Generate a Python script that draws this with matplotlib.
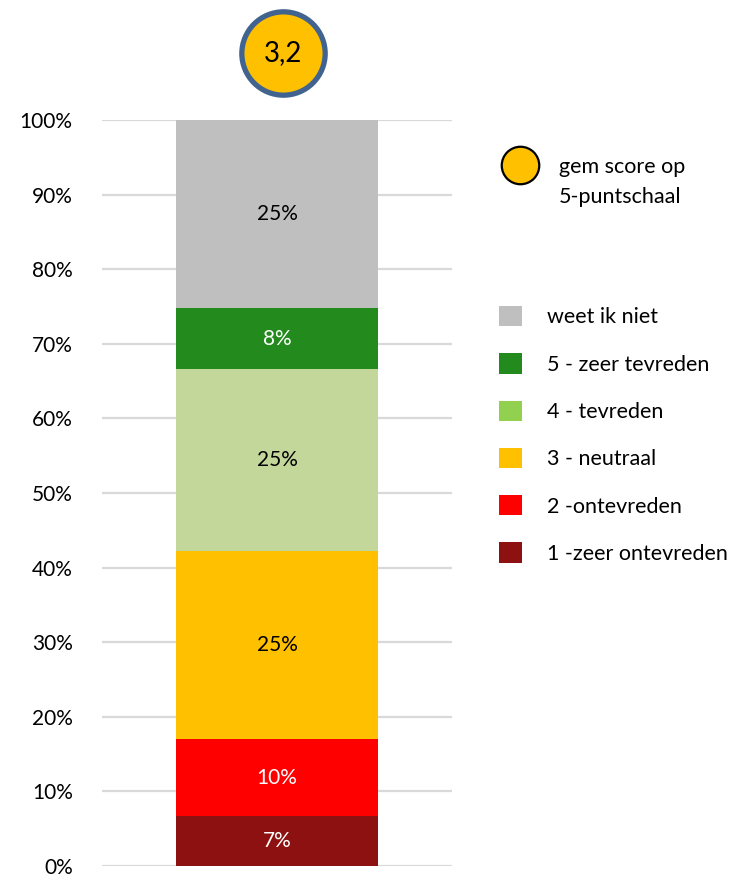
import matplotlib.pyplot as plt
from matplotlib.patches import Patch
from matplotlib.lines import Line2D

plt.rcParams['font.family'] = ['Lato', 'DejaVu Sans']

categories = ['1 -zeer ontevreden', '2 -ontevreden', '3 - neutraal',
              '4 - tevreden', '5 - zeer tevreden', 'weet ik niet']
values = [6.7, 10.3, 25.2, 24.4, 8.2, 25.2]
labels = ['7%', '10%', '25%', '25%', '8%', '25%']
bar_colors = ['#8E1111', '#FF0000', '#FFC000', '#C4D79B', '#238A1E', '#BFBFBF']
legend_colors = ['#8E1111', '#FF0000', '#FFC000', '#92D050', '#238A1E', '#BFBFBF']
text_colors = ['white', 'white', 'black', 'black', 'white', 'black']
avg_score = 3.2

fig = plt.figure(figsize=(7.33, 8.76), dpi=100)
ax = fig.add_axes([0.139, 0.0114, 0.478, 0.8516])

bottom = 0
for v, lab, c, tc in zip(values, labels, bar_colors, text_colors):
    ax.bar(0, v, bottom=bottom, width=1.0, color=c, zorder=3)
    ax.text(0, bottom + v / 2, lab, ha='center', va='center', color=tc, fontsize=15, zorder=4)
    bottom += v

ax.set_xlim(-0.87, 0.87)
ax.set_ylim(0, 100)
ax.set_yticks(range(0, 101, 10))
ax.set_yticklabels([f'{t}%' for t in range(0, 101, 10)], fontsize=15)
ax.tick_params(axis='y', length=0, pad=21)
ax.set_xticks([])
ax.grid(axis='y', color='#D9D9D9', linewidth=1.6, zorder=0)
for s in ax.spines.values():
    s.set_visible(False)

# average score bubble above the bar
ax.plot(0.03, 109, marker='o', markersize=60, markerfacecolor='#FFC000',
        markeredgecolor='#41638F', markeredgewidth=3.8, clip_on=False, zorder=5)
ax.text(0.03, 109, f'{avg_score:.1f}'.replace('.', ','), ha='center', va='center',
        fontsize=20, clip_on=False, zorder=6)

# legend for the bubble (second line as a blank entry)
h1 = [Line2D([], [], marker='o', linestyle='none', markersize=27,
             markerfacecolor='#FFC000', markeredgecolor='black', markeredgewidth=1.6),
      Line2D([], [], linestyle='none')]
fig.legend(h1, ['gem score op', '5-puntschaal'], loc='upper left',
           bbox_to_anchor=(503 / 733, 1 - 157 / 876), frameon=False,
           fontsize=15.5, handletextpad=1.0, borderpad=0, borderaxespad=0,
           handlelength=1.6, labelspacing=0.45)

h2 = [Patch(facecolor=c) for c in legend_colors][::-1]
fig.legend(h2, categories[::-1], loc='upper left',
           bbox_to_anchor=(499 / 733, 1 - 306 / 876), frameon=False,
           fontsize=15.5, handlelength=1.07, handleheight=1.07,
           handletextpad=1.15, labelspacing=1.2, borderpad=0, borderaxespad=0)

fig.savefig('out.png', dpi=100)
